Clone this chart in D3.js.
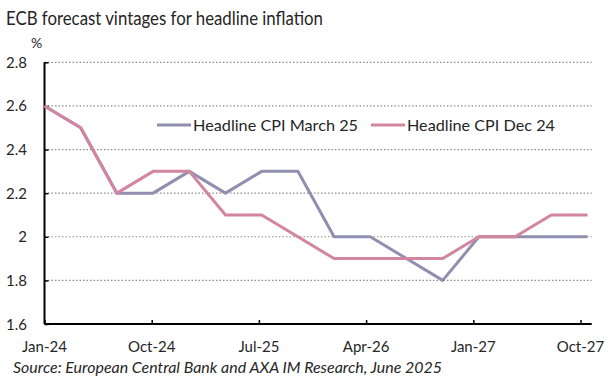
<!DOCTYPE html>
<html><head><meta charset="utf-8">
<script src="https://cdn.jsdelivr.net/npm/d3@7"></script>
<style>body{margin:0;background:#fff}svg{display:block}text{font-family:Lato,"Open Sans",sans-serif;fill:#262626}</style>
</head><body>
<script>
const quarters = ["Q1-24","Q2-24","Q3-24","Q4-24","Q1-25","Q2-25","Q3-25","Q4-25","Q1-26","Q2-26","Q3-26","Q4-26","Q1-27","Q2-27","Q3-27","Q4-27"];
const march25 = [2.6,2.5,2.2,2.2,2.3,2.2,2.3,2.3,2.0,2.0,1.9,1.8,2.0,2.0,2.0,2.0];
const dec24 = [2.6,2.5,2.2,2.3,2.3,2.1,2.1,2.0,1.9,1.9,1.9,1.9,2.0,2.0,2.1,2.1];
const tickMonths = [0,9,18,27,36,45];
const tickLabels = ["Jan-24","Oct-24","Jul-25","Apr-26","Jan-27","Oct-27"];
const yTicks = [1.6,1.8,2.0,2.2,2.4,2.6,2.8];
const seriesNames = ["Headline CPI March 25","Headline CPI Dec 24"];
const colors = ["#908fb0","#d3849f"];

const W=614,H=379;
const svg=d3.select("body").append("svg").attr("width",W).attr("height",H);
const x0=44.5, x1=591.7;
const xMonth=d3.scaleLinear().domain([0,45.94]).range([x0,x1]);
const xQ=d3.scalePoint().domain(quarters).range([x0,587.5]);
const y=d3.scaleLinear().domain([1.6,2.8]).range([324,62.3]);

svg.append("text").attr("x",6).attr("y",25).attr("font-size",18.5)
  .attr("textLength",317).attr("lengthAdjust","spacingAndGlyphs")
  .text("ECB forecast vintages for headline inflation");
svg.append("text").attr("x",31).attr("y",48).attr("font-size",14).text("%");

// gridlines
svg.append("g").selectAll("line").data(yTicks.filter(d=>d>1.6)).join("line")
  .attr("x1",x0).attr("x2",x1).attr("y1",d=>y(d)).attr("y2",d=>y(d))
  .attr("stroke","#8c8c8c").attr("stroke-width",1.2).attr("stroke-dasharray","1.5,2");

// y axis
const ya=svg.append("g").attr("transform",`translate(${x0},0)`)
  .call(d3.axisRight(y).tickValues(yTicks).tickSize(4).tickFormat(""));
ya.select(".domain").attr("stroke","#000").attr("stroke-width",2).attr("d",`M0,${y(2.8)}V${y(1.6)}`);
ya.selectAll(".tick line").attr("stroke","#000").attr("stroke-width",1.5);
svg.append("g").selectAll("text").data(yTicks).join("text")
  .attr("x",27).attr("y",d=>y(d)+5.5).attr("text-anchor","end").attr("font-size",15)
  .text(d=>d3.format("")(Math.round(d*10)/10));

// x axis
const xa=svg.append("g").attr("transform",`translate(0,${y(1.6)})`)
  .call(d3.axisTop(xMonth).tickValues(tickMonths).tickSize(4).tickFormat(""));
xa.select(".domain").attr("stroke","#000").attr("stroke-width",2).attr("d",`M${x0},0H${x1}`);
xa.selectAll(".tick line").attr("stroke","#000").attr("stroke-width",1.5);
svg.append("g").selectAll("text").data(tickMonths).join("text")
  .attr("x",d=>xMonth(d)).attr("y",352).attr("text-anchor","middle").attr("font-size",15)
  .text((d,i)=>tickLabels[i]);

// lines
const line=d3.line().x((d,i)=>xQ(quarters[i])).y(d=>y(d));
[march25,dec24].forEach((s,k)=>{
  svg.append("path").attr("d",line(s)).attr("fill","none").attr("stroke",colors[k])
    .attr("stroke-width",3).attr("stroke-linejoin","round");
});

// legend
const leg=[{x:157,tx:193,w:165},{x:371,tx:407,w:148}];
leg.forEach((l,k)=>{
  svg.append("line").attr("x1",l.x).attr("x2",l.x+34).attr("y1",125).attr("y2",125)
    .attr("stroke",colors[k]).attr("stroke-width",3);
  svg.append("text").attr("x",l.tx).attr("y",130.5).attr("font-size",16)
    .attr("textLength",l.w).attr("lengthAdjust","spacingAndGlyphs").text(seriesNames[k]);
});

svg.append("text").attr("x",13).attr("y",373).attr("font-size",15.5).attr("font-style","italic")
  .attr("textLength",429).attr("lengthAdjust","spacingAndGlyphs")
  .text("Source: European Central Bank and AXA IM Research, June 2025");
</script>
</body></html>
